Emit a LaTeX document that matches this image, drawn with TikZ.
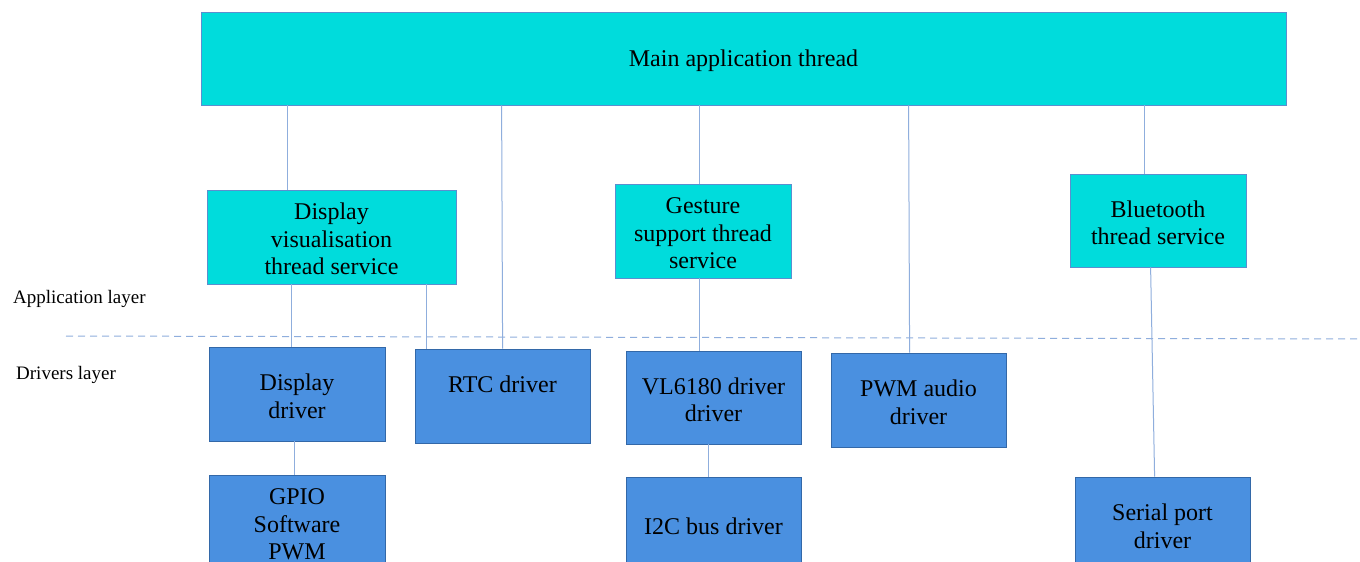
\documentclass[tikz,border=0pt]{standalone}
\usepackage{fontspec}
\setmainfont{Liberation Serif}
\definecolor{appfill}{HTML}{00DCDC}
\definecolor{appline}{HTML}{5B8FCF}
\definecolor{drvfill}{HTML}{4A90E0}
\definecolor{drvline}{HTML}{3368A8}
\definecolor{wire}{HTML}{8FAEDD}
\begin{document}
\begin{tikzpicture}[x=1pt,y=-1pt,
  boxtext/.style={font=\fontsize{24}{27.6}\selectfont, align=center, inner sep=0pt, text=black},
  appbox/.style={boxtext, draw=appline, fill=appfill, line width=0.8pt},
  drvbox/.style={boxtext, draw=drvline, fill=drvfill, line width=0.8pt},
  wireline/.style={draw=wire, line width=1pt},
  layerlabel/.style={font=\fontsize{19}{22}\selectfont, inner sep=0pt, anchor=west}]
\clip (0,0) rectangle (1360,562);
\fill[white] (0,0) rectangle (1360,562);

% application layer
\node[appbox, minimum width=1085pt, minimum height=93pt] (main) at (743.5,58.5) {\rule{0pt}{21pt}Main application thread};
\node[appbox, minimum width=249pt, minimum height=94pt] (dvis) at (331.5,237) {\rule{0pt}{21pt}Display\\visualisation\\thread service};
\node[appbox, minimum width=176pt, minimum height=94pt] (gest) at (703,231) {\rule{0pt}{21pt}Gesture\\support thread\\service};
\node[appbox, minimum width=176pt, minimum height=93pt] (blue) at (1158,220.5) {\rule{0pt}{21pt}Bluetooth\\thread service};

% drivers layer
\node[drvbox, minimum width=176pt, minimum height=94pt] (ddrv) at (297,394) {\rule{0pt}{21pt}Display\\driver};
\node[drvbox, minimum width=175pt, minimum height=94pt] (rtc) at (502.5,396) {\rule{0pt}{21pt}RTC driver\\\mbox{}};
\node[drvbox, minimum width=175pt, minimum height=93pt] (vl) at (713.5,397.5) {\rule{0pt}{21pt}VL6180 driver\\driver};
\node[drvbox, minimum width=175pt, minimum height=94pt] (pwm) at (918.5,400) {\rule{0pt}{21pt}PWM audio\\driver};
\node[drvbox, minimum width=176pt, minimum height=94pt] (gpio) at (297,522) {\rule{0pt}{21pt}GPIO\\Software\\PWM};
\node[drvbox, minimum width=175pt, minimum height=94pt] (i2c) at (713.5,524) {\rule{0pt}{21pt}I2C bus driver};
\node[drvbox, minimum width=175pt, minimum height=94pt] (ser) at (1162.5,524) {\rule{0pt}{21pt}Serial port\\driver};

% layer separator and labels
\coordinate (sepL) at (66,336);
\coordinate (sepR) at (1360,339);
\draw[wire, line width=1pt, dash pattern=on 7pt off 5pt] (sepL) -- (sepR);
\node[layerlabel] (applabel) at (13,298.5) {Application layer};
\node[layerlabel] (drvlabel) at (16,375) {Drivers layer};

% connections
\draw[wireline] ([xshift=87pt]main.south west) -- ([xshift=81pt]dvis.north west);
\draw[wireline] ([xshift=301pt]main.south west) -- ([xshift=88pt]rtc.north west);
\draw[wireline] ([xshift=499pt]main.south west) -- ([xshift=85pt]gest.north west);
\draw[wireline] ([xshift=708pt]main.south west) -- ([xshift=79pt]pwm.north west);
\draw[wireline] ([xshift=944pt]main.south west) -- ([xshift=75pt]blue.north west);
\draw[wireline] ([xshift=85pt]dvis.south west) -- ([xshift=83pt]ddrv.north west);
\draw[wireline] ([xshift=220pt]dvis.south west) -- ([xshift=12pt]rtc.north west);
\draw[wireline] ([xshift=85pt]gest.south west) -- ([xshift=74pt]vl.north west);
\draw[wireline] ([xshift=86pt]ddrv.south west) -- ([xshift=86pt]gpio.north west);
\draw[wireline] ([xshift=83pt]vl.south west) -- ([xshift=83pt]i2c.north west);
\draw[wireline] ([xshift=81pt]blue.south west) -- ([xshift=80pt]ser.north west);
\end{tikzpicture}
\end{document}
